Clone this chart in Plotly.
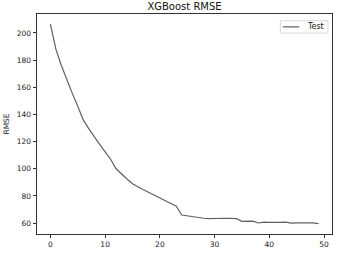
import plotly.graph_objects as go

iterations = list(range(50))
test_rmse = [206.5, 188, 176, 165, 155.5, 146, 136, 129.5, 123.5, 118,
             112.5, 107, 100, 96, 92.5, 89, 86.5, 84.5, 82.5, 80.5,
             78, 76, 74, 72.5, 66, 65.3, 64.6, 64, 63.6, 63.3,
             63.5, 63.6, 63.6, 63.5, 63.3, 61.3, 61.4, 61.5, 60.1, 60.8,
             60.5, 60.4, 60.5, 60.8, 60.0, 60.2, 60.3, 60.3, 60.2, 59.6]
x_ticks = [0, 10, 20, 30, 40, 50]
y_ticks = [60, 80, 100, 120, 140, 160, 180, 200]
series_name = "Test"

FONT = "DejaVu Sans"
LINE_COLOR = "#606060"

fig = go.Figure()
fig.add_trace(go.Scatter(x=iterations, y=test_rmse, mode="lines", name=series_name,
                         line=dict(color=LINE_COLOR, width=1.2), showlegend=False))

axis_common = dict(showgrid=False, zeroline=False, showline=True, mirror=True,
                   linecolor="#333333", linewidth=0.8, ticks="outside",
                   ticklen=3.5, tickwidth=0.8, tickcolor="#333333",
                   tickfont=dict(family=FONT, size=7.5, color="#222222"))

fig.update_layout(
    width=339, height=255,
    margin=dict(l=36, r=6, t=14, b=20),
    paper_bgcolor="white", plot_bgcolor="white",
    title=dict(text="XGBoost RMSE", x=0.5, xref="paper", y=1 - 6.5/255, yanchor="middle",
               font=dict(family=FONT, size=10, color="#111111")),
    xaxis=dict(range=[-2.45, 51.45], tickvals=x_ticks, **axis_common),
    yaxis=dict(range=[52.0, 213.9], tickvals=y_ticks,
               title=dict(text="RMSE", standoff=6, font=dict(family=FONT, size=7.5, color="#222222")),
               **axis_common),
    showlegend=False,
)

# compact matplotlib-style legend box (decoration in paper coordinates)
fig.add_shape(type="rect", xref="paper", yref="paper", x0=0.825, x1=0.9865, y0=0.913, y1=0.970,
              line=dict(color="#d0d0d0", width=0.8), fillcolor="white", layer="above")
fig.add_shape(type="line", xref="paper", yref="paper", x0=0.833, x1=0.889, y0=0.9415, y1=0.9415,
              line=dict(color=LINE_COLOR, width=1.2), layer="above")
fig.add_annotation(text=series_name, xref="paper", yref="paper", x=0.908, y=0.9415,
                   xanchor="left", yanchor="middle", showarrow=False,
                   font=dict(family=FONT, size=8, color="#222222"))

fig.write_html("out.html", config={"displayModeBar": False},
               post_script="document.body.style.margin='0';")
